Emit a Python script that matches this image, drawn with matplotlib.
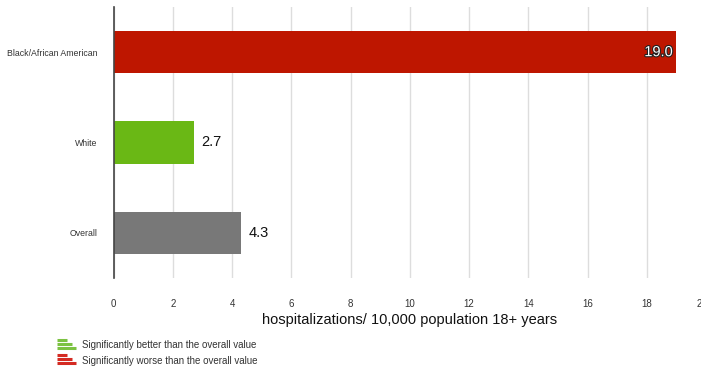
import matplotlib
matplotlib.use("Agg")
import matplotlib.pyplot as plt
from matplotlib.lines import Line2D
import matplotlib.patheffects as pe
from matplotlib.transforms import ScaledTranslation

# Data
groups = ["Black/African American", "White", "Overall"]
rates = [19.0, 2.7, 4.3]
bar_colors = ["#BE1600", "#6AB815", "#787878"]
x_ticks = [0, 2, 4, 6, 8, 10, 12, 14, 16, 18, 20]
x_label = "hospitalizations/ 10,000 population 18+ years"
legend_items = [("Significantly better than the overall value", "#7CC242"),
                ("Significantly worse than the overall value", "#D42A22")]

plt.rcParams["font.family"] = ["Liberation Sans", "DejaVu Sans"]

fig = plt.figure(figsize=(7.01, 3.72), dpi=100)
ax = fig.add_axes([113.7 / 701, 94 / 372, (706 - 113.7) / 701, 271 / 372])

ypos = list(range(len(groups)))
ax.barh(ypos, rates, height=0.47, color=bar_colors, zorder=3)
ax.set_ylim(len(groups) - 0.5, -0.5)
ax.set_yticks(ypos)
ax.set_yticklabels(groups, fontsize=6.3, color="#333333")
ax.set_xlim(0, 20)
ax.set_xticks(x_ticks)
ax.set_xticklabels([str(t) for t in x_ticks], fontsize=7, color="#333333")
ax.tick_params(axis="x", length=0, pad=15)
ax.tick_params(axis="y", length=0, pad=12)
# last tick label sits at the figure edge; nudge it slightly inward
last = ax.get_xticklabels()[-1]
last.set_transform(last.get_transform() + ScaledTranslation(-4 / 100, 0, fig.dpi_scale_trans))
ax.grid(axis="x", color="#DDDDDD", linewidth=1, zorder=0)
for s in ["top", "right", "bottom"]:
    ax.spines[s].set_visible(False)
ax.spines["left"].set_color("#444444")
ax.spines["left"].set_linewidth(1.2)
ax.spines["left"].set_zorder(4)
ax.set_xlabel(x_label, fontsize=10.5, color="#111111", labelpad=3)

# Value labels
for y, v in zip(ypos, rates):
    if v > 15:
        ax.text(v - 0.12, y, f"{v:.1f}", ha="right", va="center", fontsize=10.5,
                color="white", zorder=5,
                path_effects=[pe.withStroke(linewidth=1.6, foreground="#222222")])
    else:
        ax.text(v + 0.27, y, f"{v:.1f}", ha="left", va="center", fontsize=10.5,
                color="#111111", zorder=5)

# Legend with stacked-line icons
W, H = 701, 372
icon_centers = [344, 359]
text_centers = [345, 361]
for (text, col), yc, yt in zip(legend_items, icon_centers, text_centers):
    for dy, x_end in [(-4, 67), (0, 72), (4, 76)]:
        fig.add_artist(Line2D([57 / W, x_end / W], [(H - (yc + dy)) / H] * 2,
                              color=col, linewidth=2.2, solid_capstyle="butt"))
    fig.text(82 / W, (H - yt) / H, text, fontsize=7, color="#333333", va="center")

fig.savefig("out.png", dpi=100)
